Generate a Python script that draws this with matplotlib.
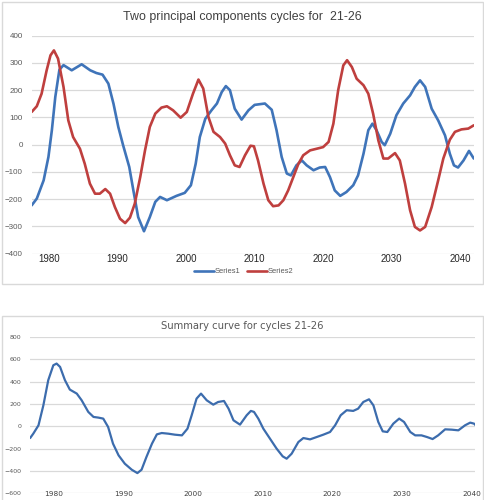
import matplotlib
matplotlib.use("Agg")
import matplotlib.pyplot as plt
from matplotlib.patches import Rectangle

# ---------------- data ----------------
s1_years = [1977.45, 1978.2, 1979.2, 1979.9, 1980.4, 1980.9, 1981.5, 1982.1, 1983.3, 1984.75,
            1986.0, 1986.9, 1987.8, 1988.65, 1989.4, 1990.1, 1990.8, 1991.7, 1992.3, 1993.0,
            1993.85, 1994.7, 1995.5, 1996.2, 1997.2, 1998.6, 1999.8, 2000.7, 2001.4, 2002.0,
            2002.8, 2003.7, 2004.5, 2005.2, 2005.8, 2006.4, 2007.1, 2008.1, 2009.1, 2010.0,
            2011.5, 2012.5, 2013.2, 2013.95, 2014.7, 2015.3, 2016.1, 2016.9, 2017.6, 2018.6,
            2019.5, 2020.3, 2021.0, 2021.7, 2022.5, 2023.4, 2024.4, 2025.1, 2025.9, 2026.6,
            2027.2, 2027.8, 2028.55, 2029.0, 2029.8, 2030.7, 2031.7, 2032.7, 2033.4, 2034.15,
            2034.9, 2035.85, 2036.8, 2037.8, 2038.5, 2039.1, 2039.7, 2040.5, 2041.3, 2042.0]
s1_values = [-223, -198, -131, -45, 53, 175, 275, 292, 273, 295,
             273, 263, 257, 224, 150, 65, -2, -82, -168, -266,
             -318, -266, -210, -192, -204, -188, -177, -149, -70, 28,
             95, 126, 151, 193, 215, 200, 132, 92, 126, 146,
             151, 128, 53, -45, -106, -113, -76, -58, -76, -94,
             -84, -82, -119, -168, -188, -174, -149, -113, -33, 53,
             77, 53, 10, -2, 40, 108, 151, 181, 212, 236,
             212, 132, 89, 34, -33, -76, -84, -58, -23, -51]

s2_years = [1977.45, 1978.2, 1978.9, 1979.64, 1980.2, 1980.7, 1981.3, 1982.1, 1982.8, 1983.5,
            1984.5, 1985.2, 1985.95, 1986.7, 1987.4, 1988.2, 1988.9, 1989.6, 1990.35, 1991.1,
            1991.8, 1992.5, 1993.3, 1994.0, 1994.7, 1995.5, 1996.4, 1997.2, 1998.1, 1999.2,
            2000.1, 2001.0, 2001.8, 2002.5, 2003.25, 2004.0, 2004.95, 2005.7, 2006.4, 2007.1,
            2007.8, 2008.6, 2009.4, 2009.9, 2010.5, 2011.3, 2012.0, 2012.7, 2013.5, 2014.2,
            2014.9, 2015.65, 2016.4, 2017.1, 2018.1, 2019.06, 2020.0, 2020.8, 2021.5, 2022.2,
            2022.95, 2023.5, 2024.2, 2024.9, 2025.9, 2026.6, 2027.3, 2028.06, 2028.8, 2029.5,
            2030.5, 2031.2, 2031.96, 2032.7, 2033.4, 2034.15, 2034.9, 2035.85, 2036.8, 2037.55,
            2038.5, 2039.25, 2040.2, 2041.2, 2042.0]
s2_values = [120, 141, 187, 273, 328, 346, 316, 212, 89, 28,
             -15, -70, -143, -180, -180, -163, -180, -229, -272, -288,
             -268, -217, -119, -21, 65, 114, 136, 141, 126, 99,
             120, 187, 239, 206, 102, 47, 28, 4, -39, -76,
             -82, -39, -4, -6, -58, -143, -204, -226, -223, -204,
             -168, -119, -70, -39, -21, -15, -9, 10, 77, 200,
             291, 310, 285, 242, 218, 187, 114, 16, -51, -51,
             -31, -58, -143, -241, -302, -315, -302, -229, -131, -51,
             18, 47, 56, 59, 71]

sum_years = [1976.6, 1977.05, 1977.8, 1978.5, 1979.2, 1979.93, 1980.4, 1980.9, 1981.6, 1982.3,
             1983.3, 1984.0, 1984.95, 1985.7, 1986.4, 1987.1, 1987.8, 1988.5, 1989.3, 1990.2,
             1991.2, 1992.0, 1992.6, 1993.3, 1994.1, 1994.8, 1995.5, 1996.44, 1997.4, 1998.4,
             1999.2, 1999.8, 2000.5, 2001.14, 2001.96, 2002.9, 2003.6, 2004.44, 2005.1, 2005.8,
             2006.74, 2007.7, 2008.3, 2008.75, 2009.37, 2010.09, 2011.05, 2012.0, 2012.87, 2013.44,
             2014.16, 2015.12, 2015.84, 2016.8, 2017.75, 2018.7, 2019.67, 2020.4, 2021.2, 2022.06,
             2023.0, 2023.7, 2024.45, 2025.27, 2025.9, 2026.6, 2027.24, 2027.9, 2028.76, 2029.6,
             2030.3, 2031.2, 2031.9, 2032.8, 2033.6, 2034.4, 2035.2, 2036.2, 2037.15, 2038.1,
             2039.06, 2039.8, 2040.35, 2040.6]
sum_values = [-105, -66, 9, 188, 413, 547, 562, 532, 413, 329,
              293, 233, 129, 84, 78, 69, -6, -155, -260, -335,
              -389, -419, -389, -275, -155, -72, -60, -66, -75, -81,
              -21, 99, 248, 293, 233, 194, 218, 227, 158, 54,
              15, 99, 138, 129, 69, -21, -111, -200, -269, -290,
              -245, -141, -105, -117, -96, -75, -51, 9, 99, 144,
              138, 158, 218, 242, 188, 39, -45, -51, 24, 69,
              39, -51, -81, -81, -96, -114, -81, -27, -30, -36,
              9, 33, 24, 9]

year_ticks = [1980, 1990, 2000, 2010, 2020, 2030, 2040]
top_yticks = [-400, -300, -200, -100, 0, 100, 200, 300, 400]
bot_yticks = [-600, -400, -200, 0, 200, 400, 600, 800]
series_names = ["Series1", "Series2"]
top_title = "Two principal components cycles for  21-26"
bot_title = "Summary curve for cycles 21-26"

# ---------------- figure ----------------
W, H = 485, 500
fig = plt.figure(figsize=(W / 100, H / 100), dpi=100)
fig.patch.set_facecolor("white")

def fx(px):
    return px / W

def fy(py):
    return 1 - py / H

# chart area borders
fig.patches.append(Rectangle((fx(2), fy(284)), fx(481), 282 / H, transform=fig.transFigure,
                             fill=False, edgecolor="#D9D9D9", lw=1.0))
fig.patches.append(Rectangle((fx(2), fy(503)), fx(481), 187 / H, transform=fig.transFigure,
                             fill=False, edgecolor="#D9D9D9", lw=1.0))

BLUE = "#3F74B9"
RED = "#BF3F3E"
GRID = "#D9D9D9"

# ---------- top chart ----------
ax1 = fig.add_axes([fx(32), fy(253.6), fx(474 - 32), (253.6 - 35.7) / H])
l1, = ax1.plot(s1_years, s1_values, color=BLUE, lw=1.9, solid_joinstyle="round",
               solid_capstyle="round", label=series_names[0])
l2, = ax1.plot(s2_years, s2_values, color=RED, lw=1.9, solid_joinstyle="round",
               solid_capstyle="round", label=series_names[1])
ax1.set_xlim(1977.5, 2042.03)
ax1.set_ylim(-400, 400)
ax1.set_yticks(top_yticks)
ax1.set_xticks(year_ticks)
ax1.grid(axis="y", color=GRID, lw=0.9)
ax1.set_axisbelow(True)
for s in ax1.spines.values():
    s.set_visible(False)
ax1.tick_params(axis="y", length=0, pad=6.5, labelsize=5.8, labelcolor="#595959")
ax1.tick_params(axis="x", length=0, pad=0.5, labelsize=7.0, labelcolor="#262626")
for lab in ax1.get_yticklabels() + ax1.get_xticklabels():
    lab.set_family("Liberation Sans")
fig.text(fx(242.5), fy(17), top_title, ha="center", va="center", fontsize=8.9,
         color="#404040", family="Liberation Sans")
leg = fig.legend(handles=[l1, l2], loc="center", bbox_to_anchor=(fx(244), fy(271.7)),
                 ncol=2, frameon=False, handlelength=2.6, handletextpad=0.15,
                 columnspacing=0.9, prop={"family": "Liberation Sans", "size": 5.4})
for t in leg.get_texts():
    t.set_color("#595959")

# ---------- bottom chart ----------
ax2 = fig.add_axes([fx(30), fy(493.3), fx(475 - 30), (493.3 - 337) / H])
ax2.plot(sum_years, sum_values, color="#3C6CAD", lw=1.6, solid_joinstyle="round",
         solid_capstyle="round")
ax2.set_xlim(1976.58, 2040.49)
ax2.set_ylim(-600, 800)
ax2.set_yticks(bot_yticks)
ax2.set_xticks(year_ticks)
ax2.grid(axis="y", color=GRID, lw=0.9)
ax2.set_axisbelow(True)
for s in ax2.spines.values():
    s.set_visible(False)
ax2.tick_params(axis="y", length=0, pad=6.0, labelsize=4.5, labelcolor="#595959")
ax2.tick_params(axis="x", length=0, pad=-1.6, labelsize=5.3, labelcolor="#404040")
fig.text(fx(242.5), fy(325.7), bot_title, ha="center", va="center", fontsize=7.2,
         color="#595959", family="DejaVu Sans")

fig.savefig("out.png", dpi=100, facecolor="white")
